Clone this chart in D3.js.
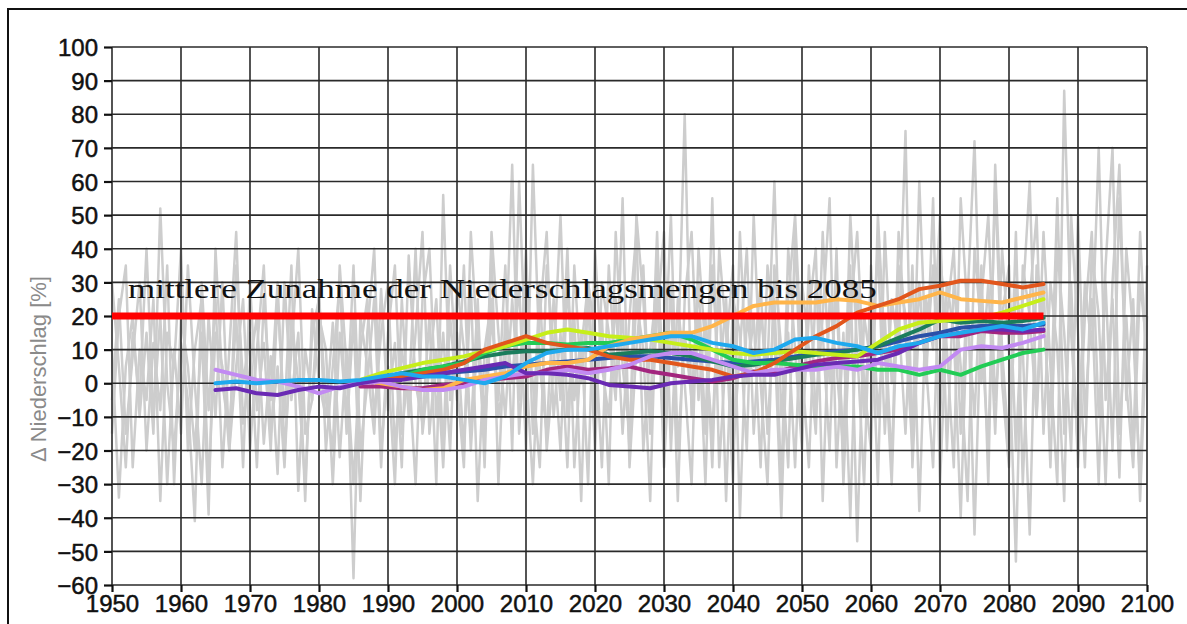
<!DOCTYPE html>
<html>
<head>
<meta charset="utf-8">
<script src="https://cdn.jsdelivr.net/npm/d3@7"></script>
<style>
  html, body { margin: 0; padding: 0; background: #fff; }
  svg { display: block; }
</style>
</head>
<body>
<div id="chart"></div>
<script>
// annual precipitation change of single model runs (grey), 1950-2100, one row per decade
const greyRuns = [
  [10,-34,5,20,-10,15,-15,52,0,-20,
   12,-5,-41,30,-8,25,-25,10,45,-12,
   5,20,-18,8,-27,30,-5,15,-35,22,
   0,-10,18,-22,10,-58,20,5,-15,28,
   -8,12,-25,38,0,-12,20,-30,56,-5,
   15,-20,30,-35,10,25,-10,5,65,-15,
   20,0,-25,35,10,-20,30,-5,15,-30,
   40,5,-10,25,-15,20,45,-20,10,30,
   -25,15,5,80,-10,20,-30,35,0,25,
   -20,10,40,-15,20,5,60,-10,15,-25,
   30,10,-15,45,0,25,-20,35,-47,20,
   5,40,-15,25,10,75,-25,20,5,35,
   -10,30,15,-40,25,72,0,30,-15,40,
   10,-53,35,20,-10,45,5,-30,87,15,
   -20,30,10,70,-5,25,-28,40,15,-30,
   35],
  [-5,25,-15,8,30,-20,12,-8,35,-30,
   20,5,-20,15,-39,40,0,-15,20,-25,
   30,-8,12,-20,25,-10,35,-32,10,-5,
   28,-20,5,30,-15,20,-35,15,40,-20,
   5,-30,25,-10,15,45,-15,10,-25,20,
   -5,35,-20,15,-10,40,-30,20,0,30,
   -20,65,5,-15,25,-5,40,-25,10,30,
   -10,20,-30,45,5,-15,25,10,-35,35,
   0,50,-20,15,-5,30,-15,55,-25,10,
   35,-40,20,5,30,-15,25,-30,40,10,
   -20,35,-10,20,55,-25,15,-40,30,-10,
   25,-30,45,0,20,-15,35,-38,25,10,
   50,-20,30,5,-35,40,15,-20,60,0,
   -25,30,10,-45,35,20,-10,55,-15,30,
   -25,20,45,-10,30,-20,55,0,-25,30,
   10],
  [30,5,-25,15,-5,40,-10,20,-30,10,
   -15,35,0,-30,20,-10,30,-20,5,25,
   -20,10,35,-15,5,-25,20,0,-30,15,
   25,-5,-20,35,5,-30,10,25,-10,15,
   30,-20,10,-5,40,-15,5,25,-20,35,
   0,-25,45,10,-15,20,-5,35,-20,60,
   5,-30,20,45,-10,15,-25,35,0,25,
   -20,30,15,-5,55,-25,10,35,-15,20,
   45,-20,25,0,-30,40,10,-15,30,-35,
   25,15,-20,50,0,-30,35,10,-25,45,
   -15,20,40,-35,25,5,-20,50,10,-30,
   35,-10,20,-25,45,15,-20,30,0,55,
   -30,20,40,-15,30,-45,25,50,-5,20,
   35,-20,25,60,-10,30,-25,40,15,-20,
   50,-10,25,-30,35,70,-15,20,-20,45,
   0],
  [-15,20,35,-25,10,-5,25,-35,15,5,
   40,-20,10,25,-30,15,5,-20,35,0,
   15,-25,25,-5,30,-20,10,40,-15,-5,
   20,10,-30,15,-10,35,-20,0,25,-25,
   15,35,-15,5,-30,25,40,-10,15,-20,
   30,10,-15,25,-25,45,15,-10,25,-5,
   40,-15,30,-20,5,50,-10,20,-35,30,
   15,-25,35,0,20,-20,50,25,-10,45,
   -15,30,-35,25,45,-5,20,-25,40,15,
   -30,45,0,20,-25,35,15,-40,25,50,
   5,-25,30,15,-20,40,-30,20,45,0,
   -20,50,10,-30,35,20,-15,60,5,-25,
   40,10,-25,55,20,-10,35,-30,65,10,
   -20,45,-30,25,50,-15,30,10,-35,50,
   15,-25,40,20,-30,30,65,-5,25,-35,
   20]
];
const greyStart = 1950;

// 30-year running means, every third year
const meanStep = 3;
const meanNames = ['navy', 'plum', 'teal', 'green', 'yellowgreen', 'lightorange', 'orangered', 'lightpurple', 'purple', 'blue'];
const meanColors = ['#2b50a8', '#a3257e', '#1b7d5c', '#22cc55', '#c6ee1a', '#ffb54a', '#e2561c', '#c28af2', '#6a2ab4', '#1fa9ee'];
const meanStarts = [1986, 1986, 1986, 1986, 1986, 1986, 1986, 1965, 1965, 1965];
const meanValues = [
  [0,1,1.5,2,3,3.5,4,5,5.5,6,6.5,7,7.5,8,8,7.5,7,6.5,6,6.5,7,8,9,9.5,10,11,12.5,14,15,16.5,17,17,17,17.5],
  [-1,-1,-1.5,-1.5,-0.5,0,1,1.5,2,4,5,4,4.5,5,3.5,2.5,1.5,0.5,1.5,3.5,3,5,6.5,7.5,8,9,10,12,14,14,15.5,15,15,15.5],
  [0.5,1.5,3,4,5,6.5,8,9,9.5,9.5,10,10.5,8.5,9,9.5,9,8,6.5,5,5.5,6.5,7.5,8.5,9,10,11,13.5,16,19,18,18.5,18,18.5,19.5],
  [0,1,2,4,5,6,9,11,12,12,11.5,12,12,13,14,15,13,10,7,6,6,5.5,5,5,5,4,4,2.5,4,2.5,5,7,9,10],
  [1,3,4.5,6,7,8,9.5,11,13,15,16,15,14,13.5,13,12,11,10,9,8.5,9,9.5,9,8.5,8,12,16,18,18.5,19,19.5,21,23,25],
  [1,0,-1,-2,-1.5,1,2,3,5,6,6,7,11,13,14,15,15,17,20,23,24,24,24,25,24.5,23,24,25,27,25,24.5,24,25.5,27],
  [0,1,2,3,4,6,10,12,14,12,11,10,8,7,7,6,5,4,2,3,6,10,14,17,21,23,25,28,29,30.5,30.5,29.5,28.5,29.5],
  [4,2.5,1,0.5,-1,-3,-1,0,0.5,-1,-2,-2,-1,1,2,3,3,4,3,4,5.5,8,9,9,7,5,3,4,4,4,5,4,6,5,4,5,10,11,10.5,12,14],
  [-2,-1.5,-3,-3.5,-2,-1,-1.5,0,1,1,2,3,4,5,6,3,3,2.5,1.5,-0.5,-1,-1.5,0,0.5,1,2,2.5,2.5,4,5.5,6,6.5,7,9,12,14,15,16,16,15.5,16],
  [0,0.5,0,0.5,1,1,0.5,1,2,3,2,2,1,0,2,6,9,10,10,11,12,13,14,14,12,11,9,10,13,13.5,12,11,9,11,12,14,15,16,17,16,18]
];

const avgIncrease = 20;
const avgFrom = 1950, avgTo = 2085;
const avgLabel = 'mittlere Zunahme der Niederschlagsmengen bis 2085';

const xDomain = [1950, 2100];
const yDomain = [-60, 100];
const xTicks = d3.range(1950, 2101, 10);
const yTicks = d3.range(-60, 101, 10);
const yTitle = 'Δ Niederschlag  [%]';

const W = 1187, H = 624;
const margin = { top: 47, right: 40, bottom: 39, left: 112 };

const svg = d3.select('#chart').append('svg').attr('width', W).attr('height', H);

// outer frame
svg.append('rect')
  .attr('x', 8).attr('y', 9)
  .attr('width', 1300).attr('height', 800)
  .attr('fill', 'none').attr('stroke', '#111').attr('stroke-width', 2);

const x = d3.scaleLinear().domain(xDomain).range([margin.left, W - margin.right]);
const y = d3.scaleLinear().domain(yDomain).range([H - margin.bottom, margin.top]);

// grey single runs
const greyLine = d3.line()
  .x((d, i) => x(greyStart + i))
  .y(d => y(d));

const greyG = svg.append('g');
greyRuns.forEach(run => {
  greyG.append('path')
    .datum(run)
    .attr('d', greyLine)
    .attr('fill', 'none')
    .attr('stroke', '#cdcdcd')
    .attr('stroke-width', 2.5)
    .attr('stroke-linejoin', 'round');
});

// grid
const grid = svg.append('g').attr('stroke', '#2a2a2a').attr('stroke-width', 1.6);
xTicks.forEach(t => {
  grid.append('line')
    .attr('x1', x(t)).attr('x2', x(t))
    .attr('y1', y(yDomain[0])).attr('y2', y(yDomain[1]));
});
yTicks.forEach(t => {
  grid.append('line')
    .attr('x1', x(xDomain[0])).attr('x2', x(xDomain[1]))
    .attr('y1', y(t)).attr('y2', y(t));
});

// axes
const yAxis = svg.append('g')
  .attr('transform', `translate(${x(xDomain[0])},0)`)
  .call(d3.axisLeft(y).tickValues(yTicks).tickSize(8).tickSizeOuter(0).tickPadding(6));
const xAxis = svg.append('g')
  .attr('transform', `translate(0,${y(yDomain[0])})`)
  .call(d3.axisBottom(x).tickValues(xTicks).tickFormat(d3.format('d')).tickSize(7).tickSizeOuter(0).tickPadding(3));

[yAxis, xAxis].forEach(ax => {
  ax.select('.domain').remove();
  ax.selectAll('.tick line').attr('stroke', '#111').attr('stroke-width', 2.2);
  ax.selectAll('.tick text')
    .attr('fill', '#111')
    .attr('stroke', '#111')
    .attr('stroke-width', 0.5)
    .attr('font-family', '"Liberation Sans", Arial, sans-serif')
    .attr('font-size', 24);
});
yAxis.selectAll('.tick text').attr('dy', '0.36em');
xAxis.selectAll('.tick text').attr('dy', '0.72em');

// y title
svg.append('text')
  .attr('transform', `translate(46,369) rotate(-90)`)
  .attr('text-anchor', 'middle')
  .attr('fill', '#8a8a8a')
  .attr('font-family', '"Liberation Sans", Arial, sans-serif')
  .attr('font-size', 22)
  .text(yTitle);

// running means
const meanLine = d3.line()
  .x(d => x(d.year))
  .y(d => y(d.value));

const meanG = svg.append('g');
meanValues.forEach((vals, k) => {
  const pts = vals.map((v, i) => ({ year: meanStarts[k] + i * meanStep, value: v }));
  meanG.append('path')
    .datum(pts)
    .attr('d', meanLine)
    .attr('fill', 'none')
    .attr('stroke', meanColors[k])
    .attr('stroke-width', 4)
    .attr('stroke-linejoin', 'round')
    .attr('stroke-linecap', 'round');
});

// average increase
svg.append('line')
  .attr('x1', x(avgFrom)).attr('x2', x(avgTo))
  .attr('y1', y(avgIncrease)).attr('y2', y(avgIncrease))
  .attr('stroke', '#ff0000')
  .attr('stroke-width', 7);

// label, stretched horizontally to the width it has in the original
const label = svg.append('text')
  .attr('font-family', '"Liberation Serif", "Times New Roman", serif')
  .attr('font-size', 28)
  .attr('fill', '#111')
  .text(avgLabel);
const natural = label.node().getComputedTextLength();
label.attr('transform', `translate(128,298) scale(${749 / natural},1)`);
</script>
</body>
</html>
